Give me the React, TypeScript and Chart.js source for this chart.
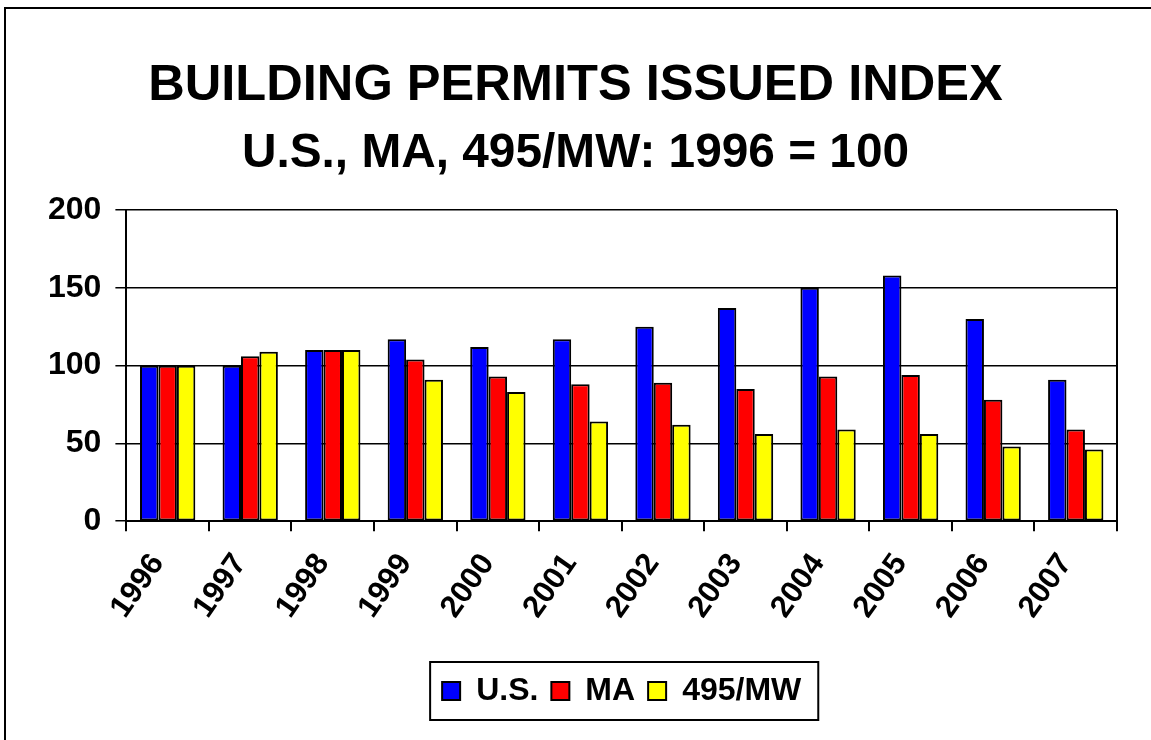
import React, { useEffect, useRef } from "react";
import { Chart, registerables } from "chart.js";

Chart.register(...registerables);

const categories = ["1996", "1997", "1998", "1999", "2000", "2001", "2002", "2003", "2004", "2005", "2006", "2007"];
const usValues = [100, 100, 110, 117, 112, 117, 125, 137, 150, 158, 130, 91];
const maValues = [100, 106, 110, 104, 93, 88, 89, 85, 93, 94, 78, 59];
const mwValues = [100, 109, 110, 91, 83, 64, 62, 56, 59, 56, 48, 46];
const seriesNames = ["U.S.", "MA", "495/MW"];
const yMin = 0;
const yMax = 200;
const yStep = 50;

const FONT = 'Arial, "Liberation Sans", Helvetica, sans-serif';

const framePlugin = {
  id: "frame",
  afterDraw(chart: any) {
    const { ctx, chartArea } = chart;
    ctx.save();
    ctx.strokeStyle = "#000";
    ctx.lineWidth = 2;
    ctx.beginPath();
    ctx.moveTo(chartArea.right, chartArea.top);
    ctx.lineTo(chartArea.right, chartArea.bottom);
    ctx.stroke();
    const lg = chart.legend;
    if (lg && lg.legendHitBoxes && lg.legendHitBoxes.length) {
      const hb = lg.legendHitBoxes;
      let l = Infinity, r = -Infinity, t = Infinity, b = -Infinity;
      hb.forEach((h: any) => {
        l = Math.min(l, h.left);
        r = Math.max(r, h.left + h.width);
        t = Math.min(t, h.top);
        b = Math.max(b, h.top + h.height);
      });
      ctx.lineWidth = 2;
      ctx.strokeRect(l - 12, t - 13, r - l + 29, b - t + 26);
    }
    ctx.restore();
  },
};

export default function App() {
  const ref = useRef<HTMLCanvasElement | null>(null);
  useEffect(() => {
    if (!ref.current) return;
    const common = { borderColor: "#000", borderWidth: 2, borderSkipped: false as const };
    const chart = new Chart(ref.current, {
      type: "bar",
      data: {
        labels: categories,
        datasets: [
          { label: seriesNames[0], data: usValues, backgroundColor: "#0000FF", ...common },
          { label: seriesNames[1], data: maValues, backgroundColor: "#FF0000", ...common },
          { label: seriesNames[2], data: mwValues, backgroundColor: "#FFFF00", ...common },
        ],
      },
      options: {
        animation: false,
        responsive: false,
        maintainAspectRatio: false,
        layout: { padding: { left: 34, right: 34, top: 0, bottom: 23 } },
        datasets: { bar: { categoryPercentage: 0.67, barPercentage: 1 } },
        scales: {
          x: {
            offset: true,
            grid: { display: true, drawOnChartArea: false, drawTicks: true, tickLength: 10, color: "#000", lineWidth: 2, offset: true },
            border: { display: true, color: "#000", width: 2 },
            ticks: { color: "#000", font: { family: FONT, size: 31, weight: "bold" }, maxRotation: 55, minRotation: 55, padding: 16, labelOffset: -10, autoSkip: false },
            afterFit: (axis: any) => {
              axis.height += 21;
            },
          },
          y: {
            min: yMin,
            max: yMax,
            ticks: { stepSize: yStep, color: "#000", font: { family: FONT, size: 32, weight: "bold" }, padding: 14 },
            grid: { color: "#000", lineWidth: 1.5, tickLength: 11, drawTicks: true },
            border: { display: true, color: "#000", width: 2 },
          },
        },
        plugins: {
          title: {
            display: true,
            text: "BUILDING PERMITS ISSUED INDEX",
            color: "#000",
            font: { family: FONT, size: 50.6, weight: "bold" },
            padding: { top: 56, bottom: 8 },
          },
          subtitle: {
            display: true,
            text: "U.S., MA, 495/MW: 1996 = 100",
            color: "#000",
            font: { family: FONT, size: 47.8, weight: "bold" },
            padding: { top: 0, bottom: 28 },
          },
          legend: {
            display: true,
            position: "bottom",
            fullSize: false,
            labels: {
              color: "#000",
              font: { family: FONT, size: 32, weight: "bold" },
              boxWidth: 18,
              boxHeight: 18,
              padding: 13,
            },
          },
          tooltip: { enabled: false },
        },
      },
      plugins: [framePlugin],
    });
    return () => chart.destroy();
  }, []);
  return (
    <div style={{ position: "absolute", left: 0, top: 0, width: 1151, height: 740, overflow: "hidden", background: "#fff" }}>
      <canvas ref={ref} width={1151} height={740} style={{ position: "absolute", left: 0, top: 0 }} />
      <div style={{ position: "absolute", left: 4, top: 7, width: 2000, height: 2000, border: "2px solid #000", pointerEvents: "none" }} />
    </div>
  );
}
